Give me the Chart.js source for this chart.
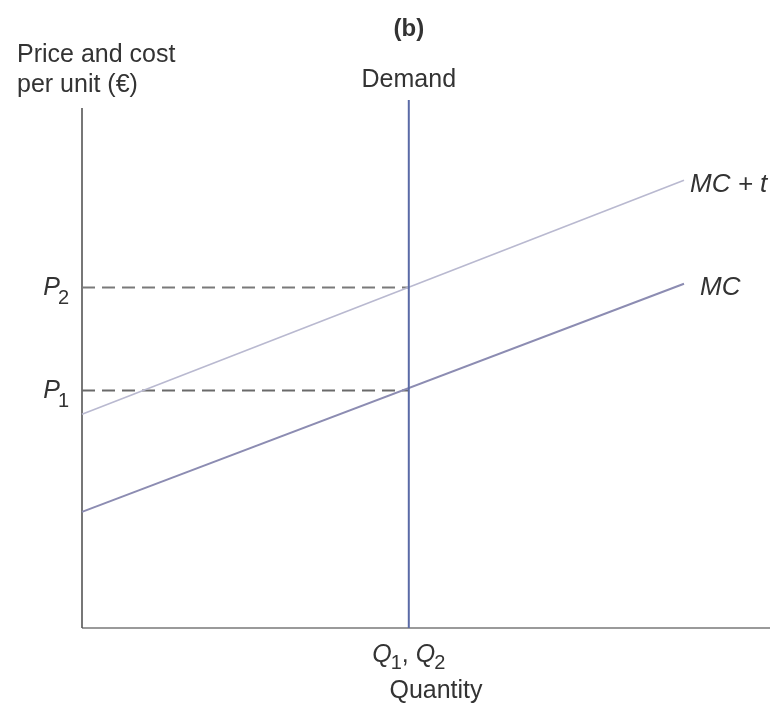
<!DOCTYPE html>
<html lang="en">
<head>
<meta charset="UTF-8">
<title>Price and cost per unit - Demand, MC, MC + t</title>
<script src="https://cdn.jsdelivr.net/npm/chart.js"></script>
<style>
    body {
        margin: 0;
        background-color: #ffffff;
    }
    .wrap {
        width: 773px;
        height: 707px;
    }
</style>
</head>
<body>
<div class="wrap">
    <canvas id="taxChart" width="773" height="707"></canvas>
</div>
<script>
// quantity axis runs 0..100, price axis 0..100 (no numeric ticks in the figure)
const lineQ = [0, 87.5];          // where the MC lines start / end
const mcValues = [22, 65.2];
const mcTaxValues = [40.5, 84.8];
const demandQ = 47.5;             // Q1 = Q2
const demandP = [0, 100];
const p1 = 45;
const p2 = 64.5;
const xAxisEnd = 100;
const yAxisEnd = 98.5;

const FONT = '"Liberation Sans", Arial, sans-serif';
const TEXT = '#333333';

function toPoints(xs, ys) {
    return xs.map((x, i) => ({ x: x, y: ys[i] }));
}

function lineSet(data, color, width, dash) {
    return {
        data: data,
        showLine: true,
        borderColor: color,
        borderWidth: width,
        borderDash: dash || [],
        pointRadius: 0,
        clip: false
    };
}

// draws a row of text pieces (italic letters with subscripts)
function drawRuns(ctx, x, y, runs, align) {
    let total = 0;
    runs.forEach(r => {
        ctx.font = r.font;
        r.w = ctx.measureText(r.text).width + (r.kern || 0);
        total += r.w;
    });
    let cx = x;
    if (align === 'center') cx = x - total / 2;
    if (align === 'right') cx = x - total;
    ctx.textAlign = 'left';
    runs.forEach(r => {
        ctx.font = r.font;
        ctx.fillText(r.text, cx + (r.kern || 0), y + (r.dy || 0));
        cx += r.w;
    });
}

const labelPlugin = {
    id: 'labels',
    afterDraw(chart) {
        const ctx = chart.ctx;
        const xs = chart.scales.x;
        const ys = chart.scales.y;
        const qx = xs.getPixelForValue(demandQ);
        const big = '25px ' + FONT;
        const it = 'italic 25px ' + FONT;
        const itBig = 'italic 26px ' + FONT;
        const sub = '20px ' + FONT;

        ctx.save();
        ctx.fillStyle = TEXT;
        ctx.textBaseline = 'alphabetic';

        ctx.font = big;
        ctx.textAlign = 'left';
        ctx.fillText('Price and cost', 17, 62);
        ctx.fillText('per unit (€)', 17, 92);

        ctx.font = 'bold 24px ' + FONT;
        ctx.textAlign = 'center';
        ctx.fillText('(b)', qx, 36);

        ctx.font = big;
        ctx.fillText('Demand', qx, 87);

        ctx.font = itBig;
        ctx.textAlign = 'left';
        ctx.fillText('MC + t', 690, 192);
        ctx.fillText('MC', 700, 295);

        const yP2 = ys.getPixelForValue(p2);
        const yP1 = ys.getPixelForValue(p1);
        drawRuns(ctx, 69, yP2 + 8, [
            { text: 'P', font: it },
            { text: '2', font: sub, dy: 9, kern: -2 }
        ], 'right');
        drawRuns(ctx, 69, yP1 + 8, [
            { text: 'P', font: it },
            { text: '1', font: sub, dy: 9, kern: -2 }
        ], 'right');

        drawRuns(ctx, qx, 662, [
            { text: 'Q', font: it },
            { text: '1', font: sub, dy: 7, kern: -1 },
            { text: ', ', font: big },
            { text: 'Q', font: it },
            { text: '2', font: sub, dy: 7, kern: -1 }
        ], 'center');

        ctx.font = big;
        ctx.textAlign = 'center';
        ctx.fillText('Quantity', 436, 698);
        ctx.restore();
    }
};

const ctx = document.getElementById('taxChart').getContext('2d');
new Chart(ctx, {
    type: 'scatter',
    data: {
        datasets: [
            lineSet(toPoints([demandQ, demandQ], demandP), '#5a6aa6', 2),
            lineSet(toPoints(lineQ, mcValues), '#8c8cb2', 2),
            lineSet(toPoints(lineQ, mcTaxValues), '#b9b9d0', 1.6),
            lineSet(toPoints([0, demandQ], [p2, p2]), '#7a7a7a', 2, [13, 7]),
            lineSet(toPoints([0, demandQ], [p1, p1]), '#6a6a6a', 2, [13, 7]),
            lineSet(toPoints([0, 0], [0, yAxisEnd]), '#555555', 1.6),
            lineSet(toPoints([0, xAxisEnd], [0, 0]), '#9a9a9a', 2.2)
        ]
    },
    options: {
        responsive: false,
        animation: false,
        devicePixelRatio: 1,
        layout: {
            padding: { left: 82, right: 3, top: 100, bottom: 79 }
        },
        scales: {
            x: { type: 'linear', display: false, min: 0, max: 100 },
            y: { type: 'linear', display: false, min: 0, max: 100 }
        },
        plugins: {
            legend: { display: false },
            tooltip: { enabled: false }
        }
    },
    plugins: [labelPlugin]
});
</script>
</body>
</html>
